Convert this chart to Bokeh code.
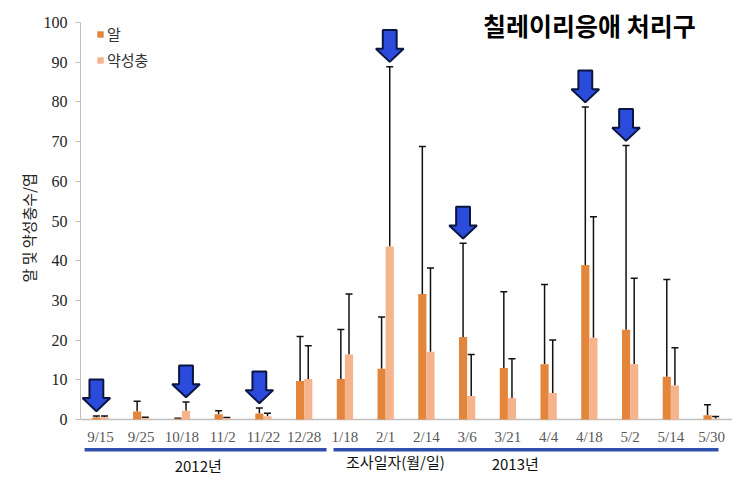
from bokeh.plotting import figure
from bokeh.models import (Range1d, FixedTicker, Whisker, ColumnDataSource, TeeHead,
                          Legend, LegendItem, Label, Title)
from bokeh.core.properties import value
from bokeh.embed import file_html
from bokeh.resources import INLINE

# ---------------- data ----------------
dates = ["9/15", "9/25", "10/18", "11/2", "11/22", "12/28", "1/18", "2/1",
         "2/14", "3/6", "3/21", "4/4", "4/18", "5/2", "5/14", "5/30"]
egg = [0.5, 2.0, 0.2, 1.3, 1.5, 9.7, 10.2, 12.8, 31.6, 20.8, 13.0, 13.9, 38.9, 22.6, 10.8, 1.1]
egg_err = [0.4, 2.6, 0.1, 0.9, 1.4, 11.2, 12.5, 13.0, 37.2, 23.6, 19.2, 20.1, 39.8, 46.4, 24.5, 2.6]
nymph = [0.6, 0.3, 2.2, 0.3, 0.8, 10.2, 16.4, 43.6, 17.1, 5.9, 5.4, 6.7, 20.6, 13.9, 8.6, 0.2]
nymph_err = [0.3, 0.3, 2.2, 0.2, 0.8, 8.4, 15.2, 45.3, 21.1, 10.5, 9.9, 13.3, 30.5, 21.7, 9.5, 0.55]
arrow_dates = ["9/15", "10/18", "11/22", "2/1", "3/6", "4/18", "5/2"]
series_names = ["알", "약성충"]
y_ticks = list(range(0, 101, 10))
title_text = "칠레이리응애 처리구"
y_label = "알 및 약성충수/엽"
x_label = "조사일자(월/일)"
year_labels = ["2012년", "2013년"]

EGG_C = "#E3853A"
NYM_C = "#F6B48D"
BLUE = "#3050B0"

n = len(dates)
idx = list(range(n))
off = 0.1
bw = 0.2

p = figure(width=742, height=480, title=None,
           x_range=Range1d(-0.49, 15.66), y_range=Range1d(-14.86, 104.3),
           x_axis_location=None, output_backend="svg", toolbar_location=None,
           min_border_left=80, min_border_right=4, min_border_top=5, min_border_bottom=2)
p.outline_line_color = None
p.ygrid.grid_line_color = None
p.xgrid.grid_line_color = None
p.background_fill_color = "white"

# y axis
ya = p.yaxis[0]
ya.ticker = FixedTicker(ticks=y_ticks)
ya.bounds = (0, 100)
ya.axis_line_color = "#BFBFBF"
ya.major_tick_line_color = "#BFBFBF"
ya.major_tick_out = 5
ya.major_tick_in = 0
ya.minor_tick_line_color = None
ya.major_label_standoff = 8
ya.major_label_text_font = "Liberation Serif"
ya.major_label_text_font_size = "16px"
ya.major_label_text_color = "#222222"

# y axis title as a side title, anchored so it sits on the 0-100 span
p.add_layout(Title(text=y_label, align="left", offset=196, standoff=4,
                   text_font="Noto Sans CJK KR", text_font_size="15px",
                   text_font_style="normal", text_color="#222222"), "left")

# x baseline
p.segment(x0=[-0.49], y0=[0], x1=[n - 0.5], y1=[0], line_color="#BFBFBF", line_width=1.5)

# bars
egg_x = [i - off for i in idx]
nym_x = [i + off for i in idx]
src_e = ColumnDataSource(dict(x=egg_x, top=egg, upper=[a + b for a, b in zip(egg, egg_err)]))
src_n = ColumnDataSource(dict(x=nym_x, top=nymph, upper=[a + b for a, b in zip(nymph, nymph_err)]))
r_e = p.vbar(x="x", top="top", bottom=0, width=bw, source=src_e, fill_color=EGG_C, line_color=None)
r_n = p.vbar(x="x", top="top", bottom=0, width=bw, source=src_n, fill_color=NYM_C, line_color=None)

for src in (src_e, src_n):
    w = Whisker(source=src, base="x", lower="top", upper="upper", dimension="height",
                line_color="#111111", line_width=1.5, lower_head=None,
                upper_head=TeeHead(size=7, line_color="#111111", line_width=1.5))
    p.add_layout(w)

# arrows
hw, sw = 0.34, 0.17
head_h, tot_h, gap = 3.3, 8.0, 1.2
axs, ays = [], []
for d in arrow_dates:
    i = dates.index(d)
    te = egg[i] + egg_err[i]
    tn = nymph[i] + nymph_err[i]
    cx, top = (i + off, tn) if tn >= te else (i - off, te)
    tip = top + gap
    axs.append([cx, cx - hw, cx - sw, cx - sw, cx + sw, cx + sw, cx + hw])
    ays.append([tip, tip + head_h, tip + head_h, tip + tot_h, tip + tot_h, tip + head_h, tip + head_h])
p.patches(xs=axs, ys=ays, fill_color="#2A4BDB", line_color="#0B1640", line_width=2)

# date labels
p.text(x=idx, y=[-4.5] * n, text=dates, text_font=value("Liberation Serif"),
       text_font_size="15px", text_color="#595959", text_align="center", text_baseline="middle")

# year group lines
p.segment(x0=[-0.39, 5.72], y0=[-7.6, -7.6], x1=[5.55, 15.17], y1=[-7.6, -7.6],
          line_color=BLUE, line_width=3.5)
p.text(x=[2.4, 10.18], y=[-11.5, -11.2], text=year_labels, text_font=value("Noto Sans CJK KR"),
       text_font_size="15px", text_color="#111111", text_align="center", text_baseline="middle")
p.text(x=[7.24], y=[-10.7], text=[x_label], text_font=value("Noto Sans CJK KR"),
       text_font_size="15px", text_color="#111111", text_align="center", text_baseline="middle")

# title
p.add_layout(Label(x=12.0, y=99.5, text=title_text, text_font="Noto Sans CJK KR",
                   text_font_size="25px", text_font_style="bold", text_color="black",
                   text_align="center", text_baseline="middle"))

# legend
leg = Legend(items=[LegendItem(label=series_names[0], renderers=[r_e]),
                    LegendItem(label=series_names[1], renderers=[r_n])],
             location=(16, 408), orientation="vertical", padding=0, margin=0, spacing=5,
             glyph_width=8, glyph_height=8, label_height=20, label_standoff=3,
             label_text_font="Noto Sans CJK KR", label_text_font_size="15px",
             label_text_color="#333333", border_line_color=None, background_fill_alpha=0)
p.add_layout(leg)

open("out.html", "w").write(file_html(p, INLINE))
